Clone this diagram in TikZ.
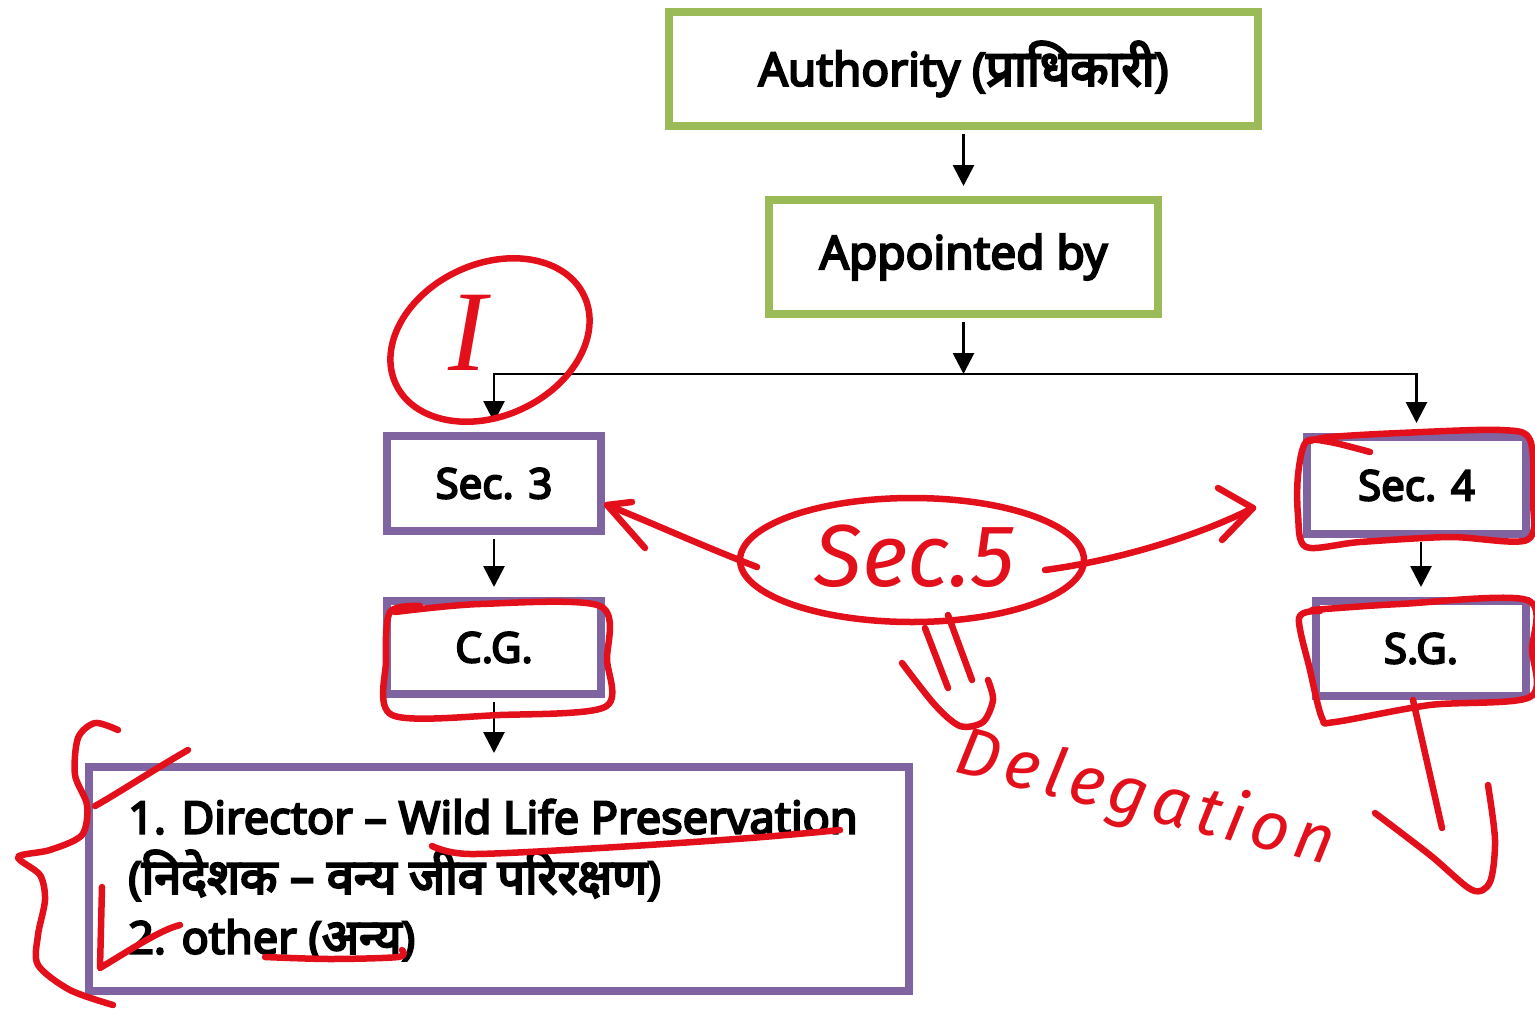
\documentclass[tikz,border=0pt]{standalone}
\usepackage{fontspec}
\setmainfont{Noto Sans}[AutoFakeBold=4.5]
\newfontfamily\hindi[Script=Devanagari,AutoFakeBold=4.5,Scale=1.08]{Noto Sans}
\newfontfamily\hand{Fira Sans}
\newfontfamily\handwide{Fira Sans}[LetterSpace=9]
\newfontfamily\handserif{Liberation Serif}
\usetikzlibrary{arrows.meta,shapes.geometric}
\definecolor{boxgreen}{HTML}{9BBB59}
\definecolor{boxpurple}{HTML}{8064A2}
\definecolor{ink}{HTML}{E3101C}
\begin{document}
\begin{tikzpicture}[x=1pt,y=-1pt,
  box/.style={draw=#1,line width=8pt,fill=white,inner sep=0pt,font=\bfseries\fontsize{46}{52}\selectfont},
  small/.style={font=\bfseries\fontsize{42}{48}\selectfont},
  arr/.style={draw=black,line width=2.8pt,-{Triangle[length=21pt,width=21pt]}},
  conn/.style={draw=black,line width=2.8pt,line cap=rect},
  pen/.style={draw=ink,line width=6.5pt,line cap=round,line join=round},
  handtext/.style={text=ink,font=\hand\itshape\fontsize{#1}{#1}\selectfont,inner sep=0pt}
]
\useasboundingbox (0,0) rectangle (1535,1010);

% boxes
\node[box=boxgreen,minimum width=589pt,minimum height=114pt] (auth) at (963.5,69) {Authority ({\hindi प्राधिकारी})};
\node[box=boxgreen,minimum width=389pt,minimum height=114pt] (appt) at (963.5,257) {Appointed by};
\node[box=boxpurple,small,minimum width=214pt,minimum height=95pt] (sec3) at (494,483.5) {Sec. 3};
\node[box=boxpurple,small,minimum width=214pt,minimum height=93pt] (cg) at (494,647.5) {C.G.};
\node[box=boxpurple,minimum width=820pt,minimum height=224pt] (list) at (499,879) {};
\node[anchor=west,align=left,inner sep=0pt,font=\bfseries\fontsize{45}{60}\selectfont] (listtext) at (128,880)
  {1. Director – Wild Life Preservation\\({\hindi निदेशक – वन्य जीव परिरक्षण})\\2. other ({\hindi अन्य})};
\node[box=boxpurple,small,minimum width=219pt,minimum height=97pt] (sec4) at (1416.5,485.5) {Sec. 4};
\node[box=boxpurple,small,minimum width=210pt,minimum height=95pt] (sg) at (1421,648.5) {S.G.};

% connectors
\coordinate (jn) at (963.5,374);
\coordinate (jl) at (sec3.north |- jn);
\coordinate (jr) at (sec4.north |- jn);
\draw[arr,shorten <=4pt,shorten >=10pt] (auth.south) -- (appt.north);
\draw[arr,shorten <=4pt] (appt.south) -- (jn);
\draw[conn] (jl) -- (jr);
\draw[arr,shorten >=10pt] (jl) -- (sec3.north);
\draw[arr,shorten >=10pt] (jr) -- (sec4.north);
\draw[arr,shorten <=4pt,shorten >=10pt] (sec3.south) -- (cg.north);
\draw[arr,shorten <=4pt,shorten >=10pt] (cg.south) -- (list.north -| cg.south);
\draw[arr,shorten <=4pt,shorten >=10pt] (sg.north |- sec4.south) -- (sg.north);

% red annotations
\begin{scope}[shift={(490,340)},rotate=25]
  \draw[pen] (0,0) ellipse [x radius=104pt,y radius=76pt];
\end{scope}
\node[text=ink,inner sep=0pt,font=\handserif\itshape\fontsize{115}{115}\selectfont] (romanI) at (468,333) {I};

\node[draw=ink,line width=6.5pt,ellipse,minimum width=344pt,minimum height=124pt,inner sep=0pt] (secfive) at (912,560) {};
\node[handtext=88] (secfivetext) at (915,556) {Sec.5};

\coordinate (ltip) at (607,505);
\coordinate (rtip) at (1253,508);
\draw[pen] (757,567) .. controls (700,545) and (650,522) .. (ltip);
\draw[pen] (632,502) -- (ltip) -- (645,548);
\draw[pen] (1045,570) .. controls (1120,560) and (1200,535) .. (rtip);
\draw[pen] (1218,488) -- (rtip) -- (1222,540);

\draw[pen] (925,628) -- (948,688);
\draw[pen] (948,615) -- (972,680);
\draw[pen] plot[smooth] coordinates {(902,663) (935,705) (960,726) (983,722) (993,700) (988,680)};

\node[text=ink,inner sep=0pt,font=\handwide\itshape\fontsize{68}{68}\selectfont,rotate=-14] (deleg) at (1145,800) {Delegation};

% outlines
\draw[pen] plot[smooth] coordinates {(1370,452) (1330,442) (1306,442) (1298,475) (1298,515) (1306,547) (1360,542) (1450,537) (1527,540) (1533,500) (1530,440) (1500,430) (1400,433) (1330,437) (1310,441)};
\draw[pen] plot[smooth] coordinates {(1312,610) (1400,604) (1527,600) (1532,650) (1530,697) (1430,705) (1335,722) (1322,718) (1310,670) (1299,618) (1320,611)};
\draw[pen] plot[smooth] coordinates {(395,612) (480,604) (600,606) (607,660) (605,707) (500,715) (392,715) (386,660) (390,612) (420,606)};

\draw[pen] (1413,700) -- (1442,828);
\draw[pen] plot[smooth] coordinates {(1375,813) (1430,855) (1472,890) (1490,882) (1495,840) (1488,785)};

% underlines
\draw[pen] plot[smooth] coordinates {(432,846) (470,854) (600,848) (750,838) (840,830)};
\draw[pen] plot[smooth] coordinates {(265,957) (330,959) (398,957) (402,950)};

% brace and ticks
\draw[pen] plot[smooth] coordinates {(118,730) (95,723) (78,738) (75,775) (87,805) (82,835) (50,850) (18,857) (40,875) (45,900) (38,935) (38,965) (70,990) (113,1005)};
\draw[pen] (188,750) .. controls (150,772) and (115,795) .. (95,806);
\draw[pen] (102,887) -- (100,968) .. controls (130,950) and (160,930) .. (180,925);
\end{tikzpicture}
\end{document}
